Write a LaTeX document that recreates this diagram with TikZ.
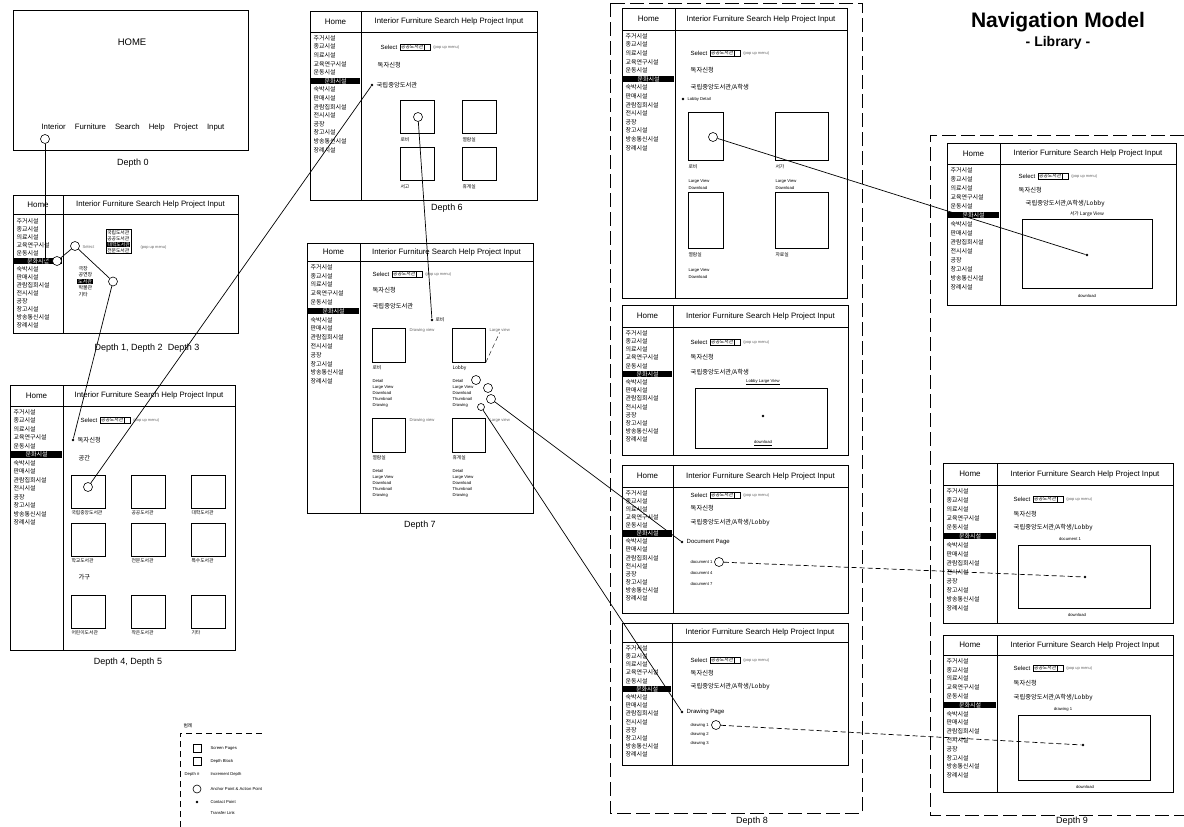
\documentclass[tikz,border=0pt]{standalone}
\usepackage{fontspec}
\setmainfont{Liberation Sans}
\newfontfamily\kr{Noto Sans CJK KR}
\usetikzlibrary{positioning}
\setlength{\fboxsep}{0.4pt}
\tikzset{
    scrbox/.style={draw=black, line width=0.9pt, fill=white, inner sep=0pt, outer sep=0pt},
    scrline/.style={line width=0.9pt},
    hometxt/.style={font=\fontsize{8}{8}\selectfont, inner sep=0pt},
    menutxt/.style={font=\fontsize{7.8}{8}\selectfont, inner sep=0pt},
    sidetxt/.style={font=\kr\fontsize{6}{6}\selectfont, inner sep=0.3pt, anchor=west},
    sidehl/.style={sidetxt, fill=black, text=white, inner xsep=1pt},
    bodytxt/.style={font=\fontsize{6}{6}\selectfont, inner sep=0.5pt, anchor=west},
    bodykr/.style={font=\kr\fontsize{6.3}{6.5}\selectfont, inner sep=0.5pt, anchor=west},
    smalltxt/.style={font=\fontsize{4.2}{4.5}\selectfont, inner sep=0.3pt, anchor=west},
    smallkr/.style={font=\kr\fontsize{4.8}{5}\selectfont, inner sep=0.3pt, anchor=west},
    poptxt/.style={font=\fontsize{4}{4.5}\selectfont, text=black!60, inner sep=0.3pt},
    selbox/.style={draw, line width=0.5pt, font=\kr\fontsize{4.8}{5}\selectfont, inner sep=0.8pt},
    selarr/.style={draw, line width=0.5pt, minimum size=6pt, inner sep=0pt},
    popbox/.style={draw, line width=0.5pt, fill=white, font=\kr\fontsize{4.8}{6}\selectfont, align=left, inner sep=1pt},
    thumb/.style={draw, line width=0.7pt, inner sep=0pt, anchor=north west},
    apoint/.style={circle, draw, fill=white, line width=0.6pt, minimum size=9pt, inner sep=0pt},
    cpoint/.style={circle, fill=black, minimum size=2.8pt, inner sep=0pt},
    navlink/.style={line width=0.7pt},
    navdash/.style={line width=0.7pt, dash pattern=on 5pt off 3pt},
    depthlbl/.style={font=\fontsize{9}{10}\selectfont},
    depthframe/.style={line width=0.8pt, dash pattern=on 14pt off 5pt}
}
\newcommand{\scrhome}{Home}
\def\sidelist{주거시설,종교시설,의료시설,교육연구시설,운동시설,문화시설,숙박시설,판매시설,관람집회시설,전시시설,공장,창고시설,방송통신시설,장례시설}
% screen: name, x, y, width, height, header, sidebar, first item, item step
\newcommand{\navscreen}[9]{%
    \node[scrbox, minimum width=#4pt, minimum height=#5pt, anchor=north west] (#1) at (#2,#3) {};
    \draw[scrline] ([yshift=-#6pt]#1.north west) -- ([yshift=-#6pt]#1.north east);
    \draw[scrline] ([xshift=#7pt]#1.north west) -- ([xshift=#7pt]#1.south west);
    \node[hometxt] (#1-home) at ([xshift=#7*0.5pt, yshift=-#6*0.5pt]#1.north west) {\scrhome};
    \node[menutxt] (#1-menu) at ([xshift={(#4+#7)*0.5pt}, yshift=-#6*0.5pt]#1.north west) {Interior Furniture Search Help Project Input};
    \foreach \sitem [count=\sidx] in \sidelist {
        \ifnum\sidx=6
            \node[sidehl, minimum width={(#7-2.5)*1pt}] (#1-s\sidx) at ([xshift=1.2pt, yshift={-(#8+#9*(\sidx-1))*1pt}]#1.north west) {\sitem};
        \else
            \node[sidetxt] (#1-s\sidx) at ([xshift=3pt, yshift={-(#8+#9*(\sidx-1))*1pt}]#1.north west) {\sitem};
        \fi
    }
}
\newcommand{\selrow}[3]{%
    \node[bodytxt] (#1) at (#2,#3) {Select};
    \node[selbox, right=2pt of #1] (#1-b) {공공도서관};
    \node[selarr, right=0pt of #1-b] (#1-a) {};
    \node[poptxt, right=2pt of #1-a] (#1-p) {(pop up menu)};
}

\begin{document}
\begin{tikzpicture}[x=1pt, y=-1pt]
\path[use as bounding box, fill=white] (0,0) rectangle (1184,827);

\node[font=\bfseries\fontsize{21}{22}\selectfont] (title) at (1058,22) {Navigation Model};
\node[font=\bfseries\fontsize{14}{15}\selectfont] (subtitle) at (1058,43) {- Library -};

% depth 0 - 5
\node[scrbox, minimum width=235pt, minimum height=140pt, anchor=north west] (d0) at (13,10) {};
\node[font=\fontsize{9.5}{10}\selectfont] (d0-home) at (132,42) {HOME};
\node[menutxt] (d0-menu) at (133,127) {Interior\hspace{9pt}Furniture\hspace{9pt}Search\hspace{9pt}Help\hspace{9pt}Project\hspace{9pt}Input};
\node[apoint] (c0) at (45,139) {};
\node[depthlbl] (l0) at (133,163) {Depth 0};

\navscreen{d1}{13}{195}{225}{138}{19}{50}{26}{8}
\node[apoint] (c1) at (57,261) {};
\node[apoint] (c2) at (75,246) {};
\node[smalltxt, text=black!55] (d1-sel) at (82,247) {Select};
\node[popbox, anchor=north west] (d1-pop) at (106,229) {국립도서관\\공공도서관\\\colorbox{black}{\color{white}대학도서관}\\전문도서관};
\node[poptxt, anchor=west] (d1-p) at (140,247) {(pop up menu)};
\foreach \mname [count=\mi] in {극장,공연장,도서관,박물관,기타}{
    \ifnum\mi=3
        \node[sidehl, font=\kr\fontsize{5}{5}\selectfont] (d1-m\mi) at (77,{262+6.5*\mi}) {\mname};
    \else
        \node[sidetxt, font=\kr\fontsize{5}{5}\selectfont] (d1-m\mi) at (78,{262+6.5*\mi}) {\mname};
    \fi
}
\node[apoint] (c3) at (113,281.5) {};
\node[depthlbl] (l1) at (147,348) {Depth 1, Depth 2\hspace{5pt}Depth 3};

\navscreen{d4}{10}{385}{225}{265}{21}{53}{27}{8.5}
\selrow{d4-sel}{80}{420}
\node[cpoint] (d4dot) at (73,440) {};
\node[bodykr] (d4-t1) at (77,440) {독자신청};
\node[bodykr] (d4-h1) at (78,458) {공간};
\node[bodykr] (d4-h2) at (78,577) {가구};
\foreach \tname/\tx/\ty [count=\ti] in {국립중앙도서관/71/475,공공도서관/131/475,대학도서관/191/475,학교도서관/71/523,전문도서관/131/523,특수도서관/191/523,어린이도서관/71/595,작은도서관/131/595,기타/191/595}{
    \node[thumb, minimum width=34pt, minimum height=33pt] (d4-b\ti) at (\tx,\ty) {};
    \node[smallkr] (d4-n\ti) at (\tx,\ty+38) {\tname};
}
\node[apoint] (c4) at (88,487) {};
\node[depthlbl] (l4) at (128,662) {Depth 4, Depth 5};

% depth 6, 7
\navscreen{d6}{310}{11}{227}{189}{21}{51}{27}{8.6}
\selrow{d6-sel}{380}{47}
\node[bodykr] (d6-t1) at (377,65) {독자신청};
\node[cpoint] (d6dot) at (372,85) {};
\node[bodykr] (d6-t2) at (376,85) {국립중앙도서관};
\foreach \tname/\tx/\ty [count=\ti] in {로비/400/100,열람실/462/100,서고/400/147,휴게실/462/147}{
    \node[thumb, minimum width=34pt, minimum height=33pt] (d6-b\ti) at (\tx,\ty) {};
    \node[smallkr] (d6-n\ti) at (\tx,\ty+40) {\tname};
}
\node[apoint] (c6) at (418,117) {};
\node[depthlbl] (l6) at (447,208) {Depth 6};

\navscreen{d7}{307}{243}{226}{270}{18}{53}{24}{8.8}
\selrow{d7-sel}{372}{274}
\node[bodykr] (d7-t1) at (372,290) {독자신청};
\node[bodykr] (d7-t2) at (372,306) {국립중앙도서관};
\node[cpoint] (d7dot) at (432,320) {};
\node[smallkr] (d7-t3) at (435,320) {로비};
\foreach \bname/\bx/\by/\bview [count=\bi] in {로비/372/328/Drawing view,Lobby/452/328/Large view,열람실/372/418/Drawing view,휴게실/452/418/Large view}{
    \node[thumb, minimum width=33pt, minimum height=34pt] (d7-b\bi) at (\bx,\by) {};
    \node[smalltxt, text=black!60] (d7-v\bi) at (\bx+37,\by+2) {\bview};
    \node[smallkr] (d7-n\bi) at (\bx,\by+40) {\bname};
    \foreach \lname [count=\li] in {Detail,Large View,Download,Thumbnail,Drawing}{
        \node[smalltxt] (d7-l\bi-\li) at (\bx,\by+47+6*\li) {\lname};
    }
}
\draw[navdash, line width=0.4pt] (d7-b2.south east) -- (d7-v2.south);
\node[apoint] (a7a) at (476,380) {};
\node[apoint] (a7b) at (488,388) {};
\node[apoint] (a7c) at (491,399) {};
\node[apoint, minimum size=7pt] (a7d) at (481,407) {};
\node[depthlbl] (l7) at (420,525) {Depth 7};

% depth 8
\draw[depthframe] (610,3) rectangle (862,813);
\node[depthlbl] (l8) at (752,821) {Depth 8};

\navscreen{d8a}{622}{8}{225}{290}{22}{53}{28}{8.6}
\selrow{d8a-sel}{690}{53}
\node[bodykr] (d8a-t1) at (690,70) {독자신청};
\node[bodykr] (d8a-t2) at (690,87) {국립중앙도서관/A학생};
\node[cpoint] (d8adot) at (683,99) {};
\node[smalltxt] (d8a-t3) at (687,99) {Lobby Detail};
\foreach \tname/\tx/\ty/\tw/\th [count=\ti] in {로비/688/112/35/48,서가/775/112/53/48,열람실/688/192/35/56,자료실/775/192/53/56}{
    \node[thumb, minimum width=\tw pt, minimum height=\th pt] (d8a-b\ti) at (\tx,\ty) {};
    \node[smallkr] (d8a-n\ti) at (\tx,\ty+\th+7) {\tname};
}
\foreach \ti/\tx/\ty in {1/688/167,2/775/167,3/688/256}{
    \node[smalltxt] (d8a-lv\ti) at (\tx,\ty+14) {Large View};
    \node[smalltxt] (d8a-dl\ti) at (\tx,\ty+21) {Download};
}
\node[apoint] (a8a) at (713,137) {};

\navscreen{d8b}{622}{305}{226}{150}{22}{51}{28}{8.2}
\selrow{d8b-sel}{690}{342}
\node[bodykr] (d8b-t1) at (690,357) {독자신청};
\node[bodykr] (d8b-t2) at (690,372) {국립중앙도서관/A학생};
\node[smalltxt, anchor=center] (d8b-t3) at (763,382) {\underline{Lobby Large View}};
\node[thumb, minimum width=132pt, minimum height=60pt] (d8b-v) at (695,388) {};
\node[cpoint] (d8bdot) at (763,416) {};
\node[smalltxt, anchor=center] (d8b-dl) at (763,443) {\underline{download}};

\navscreen{d8c}{622}{465}{226}{148}{22}{51}{28}{8.1}
\selrow{d8c-sel}{690}{495}
\node[bodykr] (d8c-t1) at (690,508) {독자신청};
\node[bodykr] (d8c-t2) at (690,523) {국립중앙도서관/A학생/Lobby};
\node[cpoint] (d8cdot) at (682,542) {};
\node[bodytxt] (d8c-t3) at (686,542) {Document Page};
\foreach \dn [count=\di] in {1,4,7}{
    \node[smalltxt] (d8c-d\di) at (690,551+11*\di) {document \dn};
}
\node[apoint] (a8c) at (719,562) {};

\renewcommand{\scrhome}{}
\navscreen{d8d}{622}{623}{226}{142}{19}{50}{25}{8.2}
\renewcommand{\scrhome}{Home}
\selrow{d8d-sel}{690}{660}
\node[bodykr] (d8d-t1) at (690,673) {독자신청};
\node[bodykr] (d8d-t2) at (690,687) {국립중앙도서관/A학생/Lobby};
\node[cpoint] (d8ddot) at (682,712) {};
\node[bodytxt] (d8d-t3) at (686,712) {Drawing Page};
\foreach \dn [count=\di] in {1,2,3}{
    \node[smalltxt] (d8d-d\di) at (690,716+9*\di) {drawing \dn};
}
\node[apoint] (a8d) at (716,725) {};

% depth 9
\draw[depthframe] (1184,135) -- (930,135) -- (930,815) -- (1184,815);
\node[depthlbl] (l9) at (1072,821) {Depth 9};

\navscreen{d9a}{947}{143}{229}{162}{21}{53}{27}{9}
\selrow{d9a-sel}{1018}{176}
\node[bodykr] (d9a-t1) at (1018,190) {독자신청};
\node[bodykr] (d9a-t2) at (1025,204) {국립중앙도서관/A학생/Lobby};
\node[smallkr, anchor=center] (d9a-t3) at (1087,214) {서가 Large View};
\node[thumb, minimum width=130pt, minimum height=69pt] (d9a-v) at (1022,219) {};
\node[cpoint] (d9adot) at (1087,255) {};
\node[smalltxt, anchor=center] (d9a-dl) at (1087,296) {download};

\navscreen{d9b}{943}{463}{230}{160}{22}{54}{28}{9}
\selrow{d9b-sel}{1013}{499}
\node[bodykr] (d9b-t1) at (1013,514) {독자신청};
\node[bodykr] (d9b-t2) at (1013,528) {국립중앙도서관/A학생/Lobby};
\node[smalltxt, anchor=center] (d9b-t3) at (1070,539) {document 1};
\node[thumb, minimum width=132pt, minimum height=63pt] (d9b-v) at (1018,545) {};
\node[cpoint] (d9bdot) at (1085,577) {};
\node[smalltxt, anchor=center] (d9b-dl) at (1077,615) {download};

\navscreen{d9c}{943}{635}{230}{157}{20}{54}{26}{8.8}
\selrow{d9c-sel}{1013}{668}
\node[bodykr] (d9c-t1) at (1013,683) {독자신청};
\node[bodykr] (d9c-t2) at (1013,698) {국립중앙도서관/A학생/Lobby};
\node[smalltxt, anchor=center] (d9c-t3) at (1063,709) {drawing 1};
\node[thumb, minimum width=132pt, minimum height=65pt] (d9c-v) at (1018,715) {};
\node[cpoint] (d9cdot) at (1083,745) {};
\node[smalltxt, anchor=center] (d9c-dl) at (1085,787) {download};

% legend
\draw[depthframe, line width=0.5pt, dash pattern=on 6pt off 4pt] (180,827) -- (180,733) -- (262,733);
\node[smallkr] (lg-title) at (183,726) {범례};
\node[draw, line width=0.6pt, minimum size=8pt, inner sep=0pt] (lg-s1) at (197,748) {};
\node[smalltxt] (lg-t1) at (210,748) {Screen Pages};
\node[draw, line width=0.6pt, minimum size=8pt, inner sep=0pt] (lg-s2) at (197,761) {};
\node[smalltxt] (lg-t2) at (210,761) {Depth Block};
\node[smalltxt, anchor=center] (lg-s3) at (192,774) {Depth \#};
\node[smalltxt] (lg-t3) at (210,774) {Increment Depth};
\node[apoint, minimum size=8pt] (lg-s4) at (197,789) {};
\node[smalltxt] (lg-t4) at (210,789) {Anchor Point \& Action Point};
\node[cpoint] (lg-s5) at (197,802) {};
\node[smalltxt] (lg-t5) at (210,802) {Contact Point};
\node[smalltxt] (lg-t6) at (210,813) {Transfer Link};

% links
\draw[navlink] (c0) |- (c1);
\draw[navlink] (c1) -- (c2);
\draw[navlink] (c2) -- (c3);
\draw[navlink] (c3) -- (d4dot);
\draw[navlink] (c4) -- (d6dot);
\draw[navlink] (c6) -- (d7dot);
\draw[navlink] (a7c) -- (d8cdot);
\draw[navlink] (a7d) -- (d8ddot);
\draw[navlink] (a8a) -- (d9adot);
\draw[navdash] (a8c) -- (d9bdot);
\draw[navdash] (a8d) -- (d9cdot);
\end{tikzpicture}
\end{document}
